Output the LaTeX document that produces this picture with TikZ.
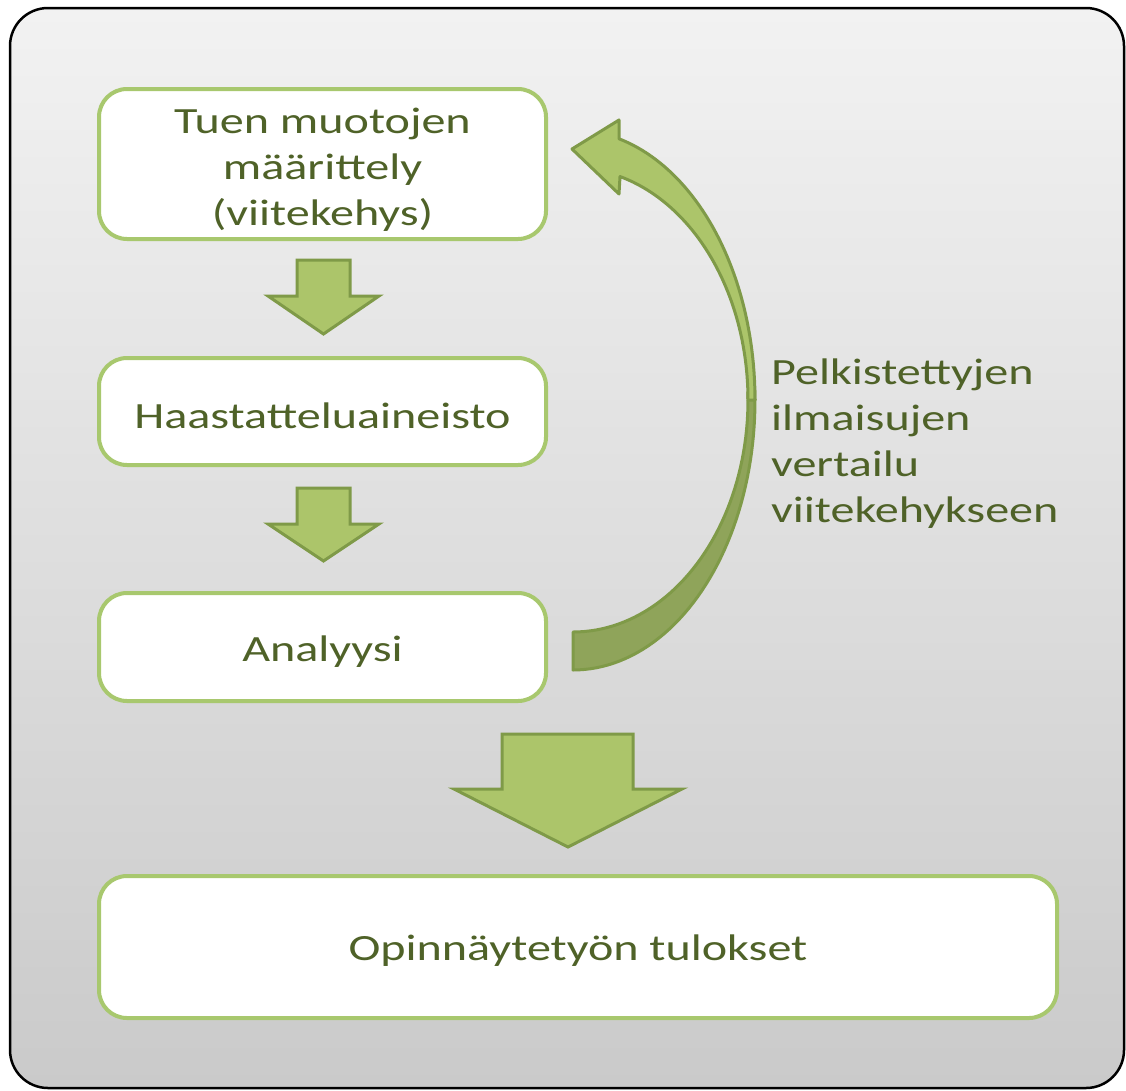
\documentclass[tikz,border=0pt]{standalone}
\usepackage{fontspec}
\setmainfont{Carlito}[FakeStretch=1.30]
\definecolor{boxgreen}{HTML}{A8C86E}
\definecolor{txtgreen}{HTML}{4F6228}
\definecolor{arrowfill}{HTML}{ACC56A}
\definecolor{arrowstroke}{HTML}{7F9A48}
\definecolor{darkfill}{HTML}{8FA45A}
\definecolor{bgtop}{HTML}{F2F2F2}
\definecolor{bgbot}{HTML}{CACACA}
\begin{document}
\begin{tikzpicture}[x=1pt,y=-1pt,
  box/.style={draw=boxgreen, line width=4pt, fill=white, rounded corners=28pt, inner sep=0pt},
  boxtext/.style={text=txtgreen, font=\fontsize{37}{46}\selectfont, align=center, inner sep=0pt},
  lbl/.style={text=txtgreen, font=\fontsize{37}{46}\selectfont, align=left, inner sep=0pt},
  blockarrow/.style={draw=arrowstroke, fill=arrowfill, line width=3pt, line join=miter},
  curvearrow/.style={draw=arrowstroke, line width=3pt, line join=round},
]
\useasboundingbox (0,0) rectangle (1126,1090);
\draw[line width=2.5pt, rounded corners=38pt, top color=bgtop, bottom color=bgbot]
  (10,8) rectangle (1124,1088);

\node[box, minimum width=447pt, minimum height=150pt] (b1) at (322.5,164) {};
\node[box, minimum width=447pt, minimum height=107pt] (b2) at (322.5,411.5) {};
\node[box, minimum width=447pt, minimum height=108pt] (b3) at (322.5,647) {};
\node[box, minimum width=958pt, minimum height=142pt] (b4) at (578,947) {};

\node[boxtext] (t1) at ([yshift=-6pt]b1.center) {Tuen muotojen\\määrittely\\(viitekehys)};
\node[boxtext] (t2) at ([yshift=-4pt]b2.center) {Haastatteluaineisto};
\node[boxtext] (t3) at ([yshift=-5pt]b3.center) {Analyysi};
\node[boxtext] (t4) at ([yshift=-4pt]b4.center) {Opinnäytetyön tulokset};

\node[lbl, anchor=west] (lab) at (771,444)
  {Pelkistettyjen\\ilmaisujen\\vertailu\\viitekehykseen};

% small block arrows
\draw[blockarrow] (297,260) -- (350,260) -- (350,296) -- (379,296) -- (323.5,334)
  -- (268,296) -- (297,296) -- cycle;
\draw[blockarrow] (297,488) -- (350,488) -- (350,524) -- (379,524) -- (323.5,561)
  -- (268,524) -- (297,524) -- cycle;
% big block arrow
\draw[blockarrow] (502,734) -- (633,734) -- (633,789) -- (682,789) -- (568,847)
  -- (454,789) -- (502,789) -- cycle;

% curved arrow: lower (back) part
\draw[curvearrow, fill=darkfill]
  plot[domain=-2:90, samples=50] ({573+182*cos(\x)},{400+270*sin(\x)})
  -- plot[domain=90:-2, samples=50] ({573+175*cos(\x)},{400+232*sin(\x)}) -- cycle;
% curved arrow: upper (front) part with head
\draw[curvearrow, fill=arrowfill]
  plot[domain=-75.36:0, samples=50] ({573+182*cos(\x)},{400+270*sin(\x)})
  -- plot[domain=0:-74.42, samples=50] ({573+175*cos(\x)},{400+232*sin(\x)})
  -- (619,194) -- (572,149) -- (619,120) -- cycle;
\end{tikzpicture}
\end{document}
